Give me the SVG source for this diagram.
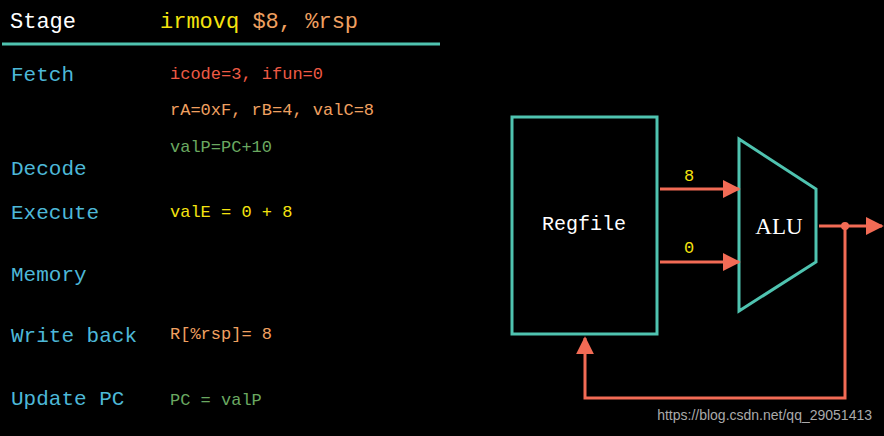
<svg xmlns="http://www.w3.org/2000/svg" width="884" height="436" viewBox="0 0 884 436">
<style>
.m{font-family:"Liberation Mono","DejaVu Sans Mono",monospace}
.h{font-size:22px}
.s{font-size:21px;fill:#4db8d8}
.v{font-size:17px}
.w{stroke:#f26b55;stroke-width:3;fill:none}
.t{stroke:#4fc3b0;stroke-width:3;fill:none}
</style>
<defs><marker id="a" markerWidth="8" markerHeight="8" refX="7" refY="4" orient="auto" markerUnits="userSpaceOnUse" viewBox="0 0 8 8"><path d="M0,0L8,4L0,8z" fill="#f26b55"/></marker>
<marker id="b" viewBox="0 0 10 10" refX="9" refY="5" markerWidth="18" markerHeight="18" orient="auto" markerUnits="userSpaceOnUse"><path d="M0,0L10,5L0,10z" fill="#f26b55"/></marker></defs>
<rect width="884" height="436" fill="#000"/>
<g id="table" class="m">
<text x="10" y="28" class="h" fill="#fff">Stage</text>
<text x="160" y="28" class="h" fill="#f5e30f">irmovq <tspan fill="#f0a060">$8, %rsp</tspan></text>
<line x1="2" y1="44" x2="440" y2="44" stroke="#4fc3b0" stroke-width="3"/>
<text x="11" y="81" class="s">Fetch</text>
<text x="11" y="175" class="s">Decode</text>
<text x="11" y="219" class="s">Execute</text>
<text x="11" y="281" class="s">Memory</text>
<text x="11" y="342" class="s">Write back</text>
<text x="11" y="405" class="s">Update PC</text>
<text x="170" y="79" class="v" fill="#ee5a45">icode=3, ifun=0</text>
<text x="170" y="115" class="v" fill="#f0a060">rA=0xF, rB=4, valC=8</text>
<text x="170" y="152" class="v" fill="#6aa860">valP=PC+10</text>
<text x="170" y="217" class="v" fill="#f5e30f">valE = 0 + 8</text>
<text x="170" y="339" class="v" fill="#f0a060">R[%rsp]= 8</text>
<text x="170" y="405" class="v" fill="#6aa860">PC = valP</text>
</g>
<g id="regfile"><rect x="512" y="117" width="145" height="217" class="t"/>
<text x="584" y="230" text-anchor="middle" class="m" font-size="20" fill="#fff">Regfile</text></g>
<g id="alu"><path d="M739,139L816,189L816,262L739,311Z" class="t" stroke-linejoin="miter"/>
<text x="779" y="234" text-anchor="middle" font-family="Liberation Serif,serif" font-size="23" fill="#fff">ALU</text></g>
<g id="connectors">
<path d="M660,189H739" class="w" marker-end="url(#b)"/>
<path d="M660,262H739" class="w" marker-end="url(#b)"/>
<path d="M819,226H882" class="w" marker-end="url(#b)"/>
<circle cx="845" cy="226" r="4" fill="#f26b55"/>
<path d="M845,226V398H585V338" class="w" marker-end="url(#b)"/>
<text x="689" y="181" text-anchor="middle" class="m v" fill="#f5e30f">8</text>
<text x="689" y="253" text-anchor="middle" class="m v" fill="#f5e30f">0</text>
</g>
<text x="872" y="420" text-anchor="end" font-family="Liberation Sans,sans-serif" font-size="14" fill="#aaa">https://blog.csdn.net/qq_29051413</text>
</svg>
